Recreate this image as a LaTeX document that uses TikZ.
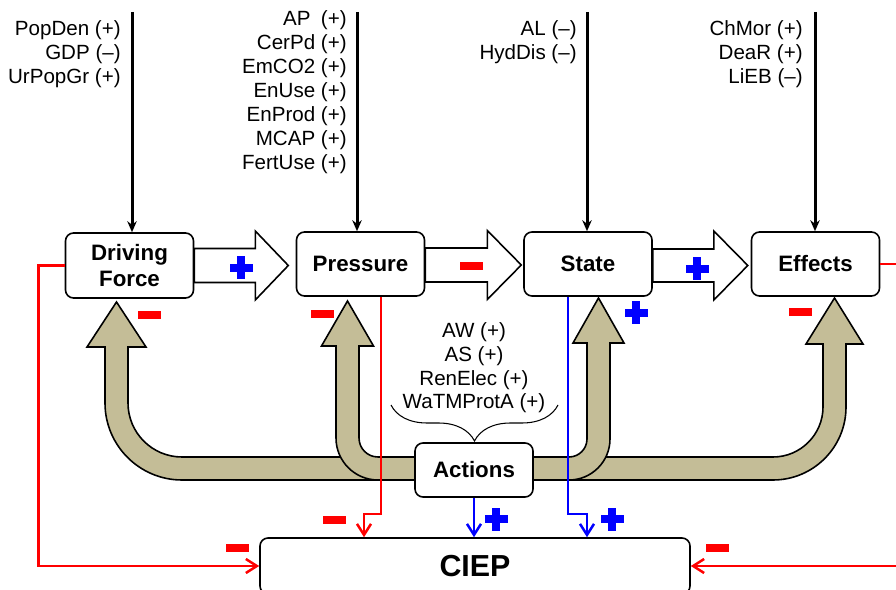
\documentclass[tikz,border=0pt]{standalone}
\usepackage{fontspec}
\setmainfont{Liberation Sans}
\usetikzlibrary{arrows.meta,calc,decorations.pathreplacing}
\definecolor{tanfill}{RGB}{196,189,151}
\tikzset{
  box/.style={draw, rounded corners=1.6mm, fill=white, line width=0.9pt, align=center, inner sep=0pt,
    minimum width=25.6mm, minimum height=12.8mm, font=\fontsize{12.7}{15.2}\selectfont\bfseries},
  lbl/.style={align=right, inner sep=0pt, font=\fontsize{11.7}{13.66}\selectfont},
  feed/.style={line width=0.6mm, -{Stealth[length=2.2mm,width=1.9mm]}},
  blk/.style={draw, fill=white, line width=0.9pt, line join=miter},
  band/.style={draw, fill=tanfill, line width=0.9pt},
  negline/.style={red, line width=0.5mm, -{Straight Barb[length=2.2mm,width=2.8mm]}},
  posline/.style={blue, line width=0.5mm, -{Straight Barb[length=2.2mm,width=2.8mm]}},
  pics/negmark/.style={code={\fill[red] (-11.5,-4) rectangle (11.5,4);}},
  pics/posmark/.style={code={\fill[blue] (-11.5,-4) rectangle (11.5,4);
    \fill[blue] (-4,-11.5) rectangle (4,11.5);}}
}
\begin{document}
\begin{tikzpicture}[x=0.2mm, y=-0.2mm]
\useasboundingbox (0,0) rectangle (896,590);

% tan arrows out of Actions
\draw[band] (420,457) -- (182,457) .. controls (152.2,457) and (128,432.8) .. (128,403)
  -- (128,347) -- (146,347) -- (116.5,302) -- (87,347) -- (105,347) -- (105,403)
  .. controls (105,445.5) and (139.5,480) .. (182,480) -- (420,480) -- cycle;
\draw[band] (420,457) -- (378,457) .. controls (367.5,457) and (359,448.5) .. (359,438)
  -- (359,346) -- (373.5,346) -- (347.5,301) -- (321.5,346) -- (336,346) -- (336,438)
  .. controls (336,461.2) and (354.8,480) .. (378,480) -- (420,480) -- cycle;
\draw[band] (528,457) -- (773,457) .. controls (800.6,457) and (823,434.4) .. (823,407)
  -- (823,344) -- (806,344) -- (834.5,298) -- (863,344) -- (846,344) -- (846,407)
  .. controls (846,447.3) and (813.3,480) .. (773,480) -- (528,480) -- cycle;
\draw[band] (528,457) -- (569,457) .. controls (578.9,457) and (587,448.9) .. (587,439)
  -- (587,343) -- (573,343) -- (598.5,298) -- (624,343) -- (610,343) -- (610,439)
  .. controls (610,461.6) and (591.6,480) .. (569,480) -- (528,480) -- cycle;

% boxes
\node[box, minimum height=13mm] (drv) at (129.5,265.5) {Driving\\Force};
\node[box] (prs) at (360.5,264) {Pressure};
\node[box] (sta) at (588,264) {State};
\node[box] (eff) at (815.5,264) {Effects};
\node[box, minimum width=23.6mm, minimum height=10.8mm] (act) at (474,470) {Actions};
\node[box, minimum width=86mm, minimum height=11.2mm, font=\fontsize{17.3}{20}\selectfont\bfseries] (ciep) at (475,566) {CIEP};

% indicator lists
\node[lbl, anchor=east] (drvin) at (121,54) {PopDen (+)\\GDP (–)\\UrPopGr (+)};
\node[lbl, anchor=east] (prsin) at (347,92.5) {AP\enspace(+)\\CerPd (+)\\EmCO2 (+)\\EnUse (+)\\EnProd (+)\\MCAP (+)\\FertUse (+)};
\node[lbl, anchor=east] (stain) at (577,42) {AL (–)\\HydDis (–)};
\node[lbl, anchor=east] (effin) at (803,54) {ChMor (+)\\DeaR (+)\\LiEB (–)};
\node[lbl, align=center, font=\fontsize{11.7}{13.4}\selectfont] (actin) at (474,368) {AW (+)\\AS (+)\\RenElec (+)\\WaTMProtA (+)};
\draw[line width=0.6pt, decorate, decoration={brace, amplitude=7.2mm}] (558,405) -- (391,405);

% inputs from the top
\coordinate (drvtop) at (132,12);
\coordinate (prstop) at (357,12);
\coordinate (statop) at (587,12);
\coordinate (efftop) at (815,12);
\draw[feed] (drvtop) -- (drvtop |- drv.north);
\draw[feed] (prstop) -- (prstop |- prs.north);
\draw[feed] (statop) -- (statop |- sta.north);
\draw[feed] (efftop) -- (efftop |- eff.north);

% block arrows along the chain
\draw[blk] ($(drv.east)+(0,-17)$) -- ++(61,0) -- ++(0,-17.5) -- ++(33,34.5) -- ++(-33,34.5)
  -- ++(0,-17.5) -- ++(-61,0) -- cycle;
\draw[blk] ($(prs.east)+(0,-16)$) -- ++(62,0) -- ++(0,-17.5) -- ++(34,34.5) -- ++(-34,34.5)
  -- ++(0,-17.5) -- ++(-62,0) -- cycle;
\draw[blk] ($(sta.east)+(0,-15)$) -- ++(61,0) -- ++(0,-18) -- ++(34,34.5) -- ++(-34,34.5)
  -- ++(0,-18) -- ++(-61,0) -- cycle;

% links into CIEP
\draw[negline] (drv.west) -- ++(-26,0) |- (ciep.west);
\draw[negline] ($(prs.south)+(20.5,0)$) -- ++(0,217) -| ($(ciep.north)+(-111,0)$);
\draw[posline] ($(sta.south)+(-20,0)$) -- ++(0,217) -| ($(ciep.north)+(112,0)$);
\draw[posline] (act.south) -- (act.south |- ciep.north);
\draw[negline] (eff.east) -- ++(30,0) |- (ciep.east);

% signs
\pic at (241,268) {posmark};
\pic at (471,266) {negmark};
\pic at (697,269) {posmark};
\pic at (149,315) {negmark};
\pic at (322,314) {negmark};
\pic at (636,313) {posmark};
\pic at (800,312) {negmark};
\pic at (334,520) {negmark};
\pic at (496,519) {posmark};
\pic at (612,519) {posmark};
\pic at (237,548) {negmark};
\pic at (717,548) {negmark};
\end{tikzpicture}
\end{document}
